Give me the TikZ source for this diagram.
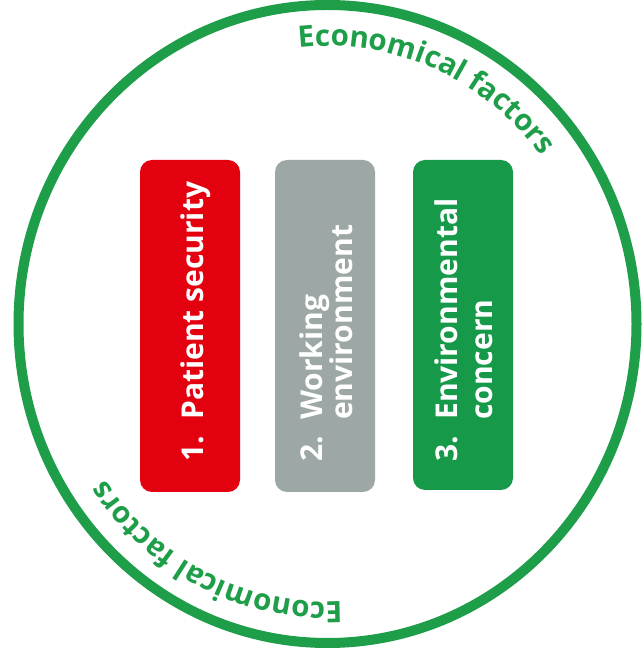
\documentclass[tikz,border=0pt]{standalone}
\usepackage{fontspec}
\setmainfont{Open Sans}
\usetikzlibrary{decorations.text}
\definecolor{ringgreen}{HTML}{1E9E48}
\definecolor{pillred}{HTML}{E3000F}
\definecolor{pillgray}{HTML}{9DA8A6}
\definecolor{pillgreen}{HTML}{17994A}
\newcommand\ringfont{\fontsize{29.5}{29.5}\selectfont\bfseries}
\newcommand\pillfont{\fontsize{30}{30}\selectfont\bfseries}
\newcommand\numbox[1]{\makebox[1.4em][l]{#1}}
\begin{document}
\begin{tikzpicture}[x=1pt,y=1pt,
  ring/.style={draw=ringgreen, line width=10pt},
  pillar/.style={rectangle, rounded corners=12pt, draw=none, minimum width=100pt, inner sep=0pt},
  pillartext/.style={rotate=90, anchor=north west, inner sep=0pt, align=left, text=white, font=\pillfont},
  ringtext/.style={decorate, decoration={text along path, text align=center, text color=ringgreen, text={|\ringfont|Economical factors}}}
]
\useasboundingbox (0,0) rectangle (641,659);
\fill[white] (0,0) rectangle (641,659);
\draw[ring] (327.5,335) ellipse[x radius=309, y radius=319];
\begin{scope}[shift={(327.5,335)}]
  \path[ringtext] (127:268 and 278) arc[start angle=127, end angle=7, x radius=268, y radius=278];
  \path[ringtext] (-56:268 and 278) arc[start angle=-56, end angle=-176, x radius=268, y radius=278];
\end{scope}
\node[pillar, fill=pillred, minimum height=332pt] (p1) at (190,333) {};
\node[pillar, fill=pillgray, minimum height=332pt] (p2) at (325,333) {};
\node[pillar, fill=pillgreen, minimum height=330pt] (p3) at (463,334) {};
\node[pillartext] (t1) at (181,197) {\numbox{1.}Patient security};
\node[pillartext] (t2) at (300,197) {\numbox{2.}Working\\\numbox{}environment};
\node[pillartext, font=\fontsize{30}{35}\selectfont\bfseries] (t3) at (435,197) {\numbox{3.}Environmental\\\numbox{}concern};
\end{tikzpicture}
\end{document}
